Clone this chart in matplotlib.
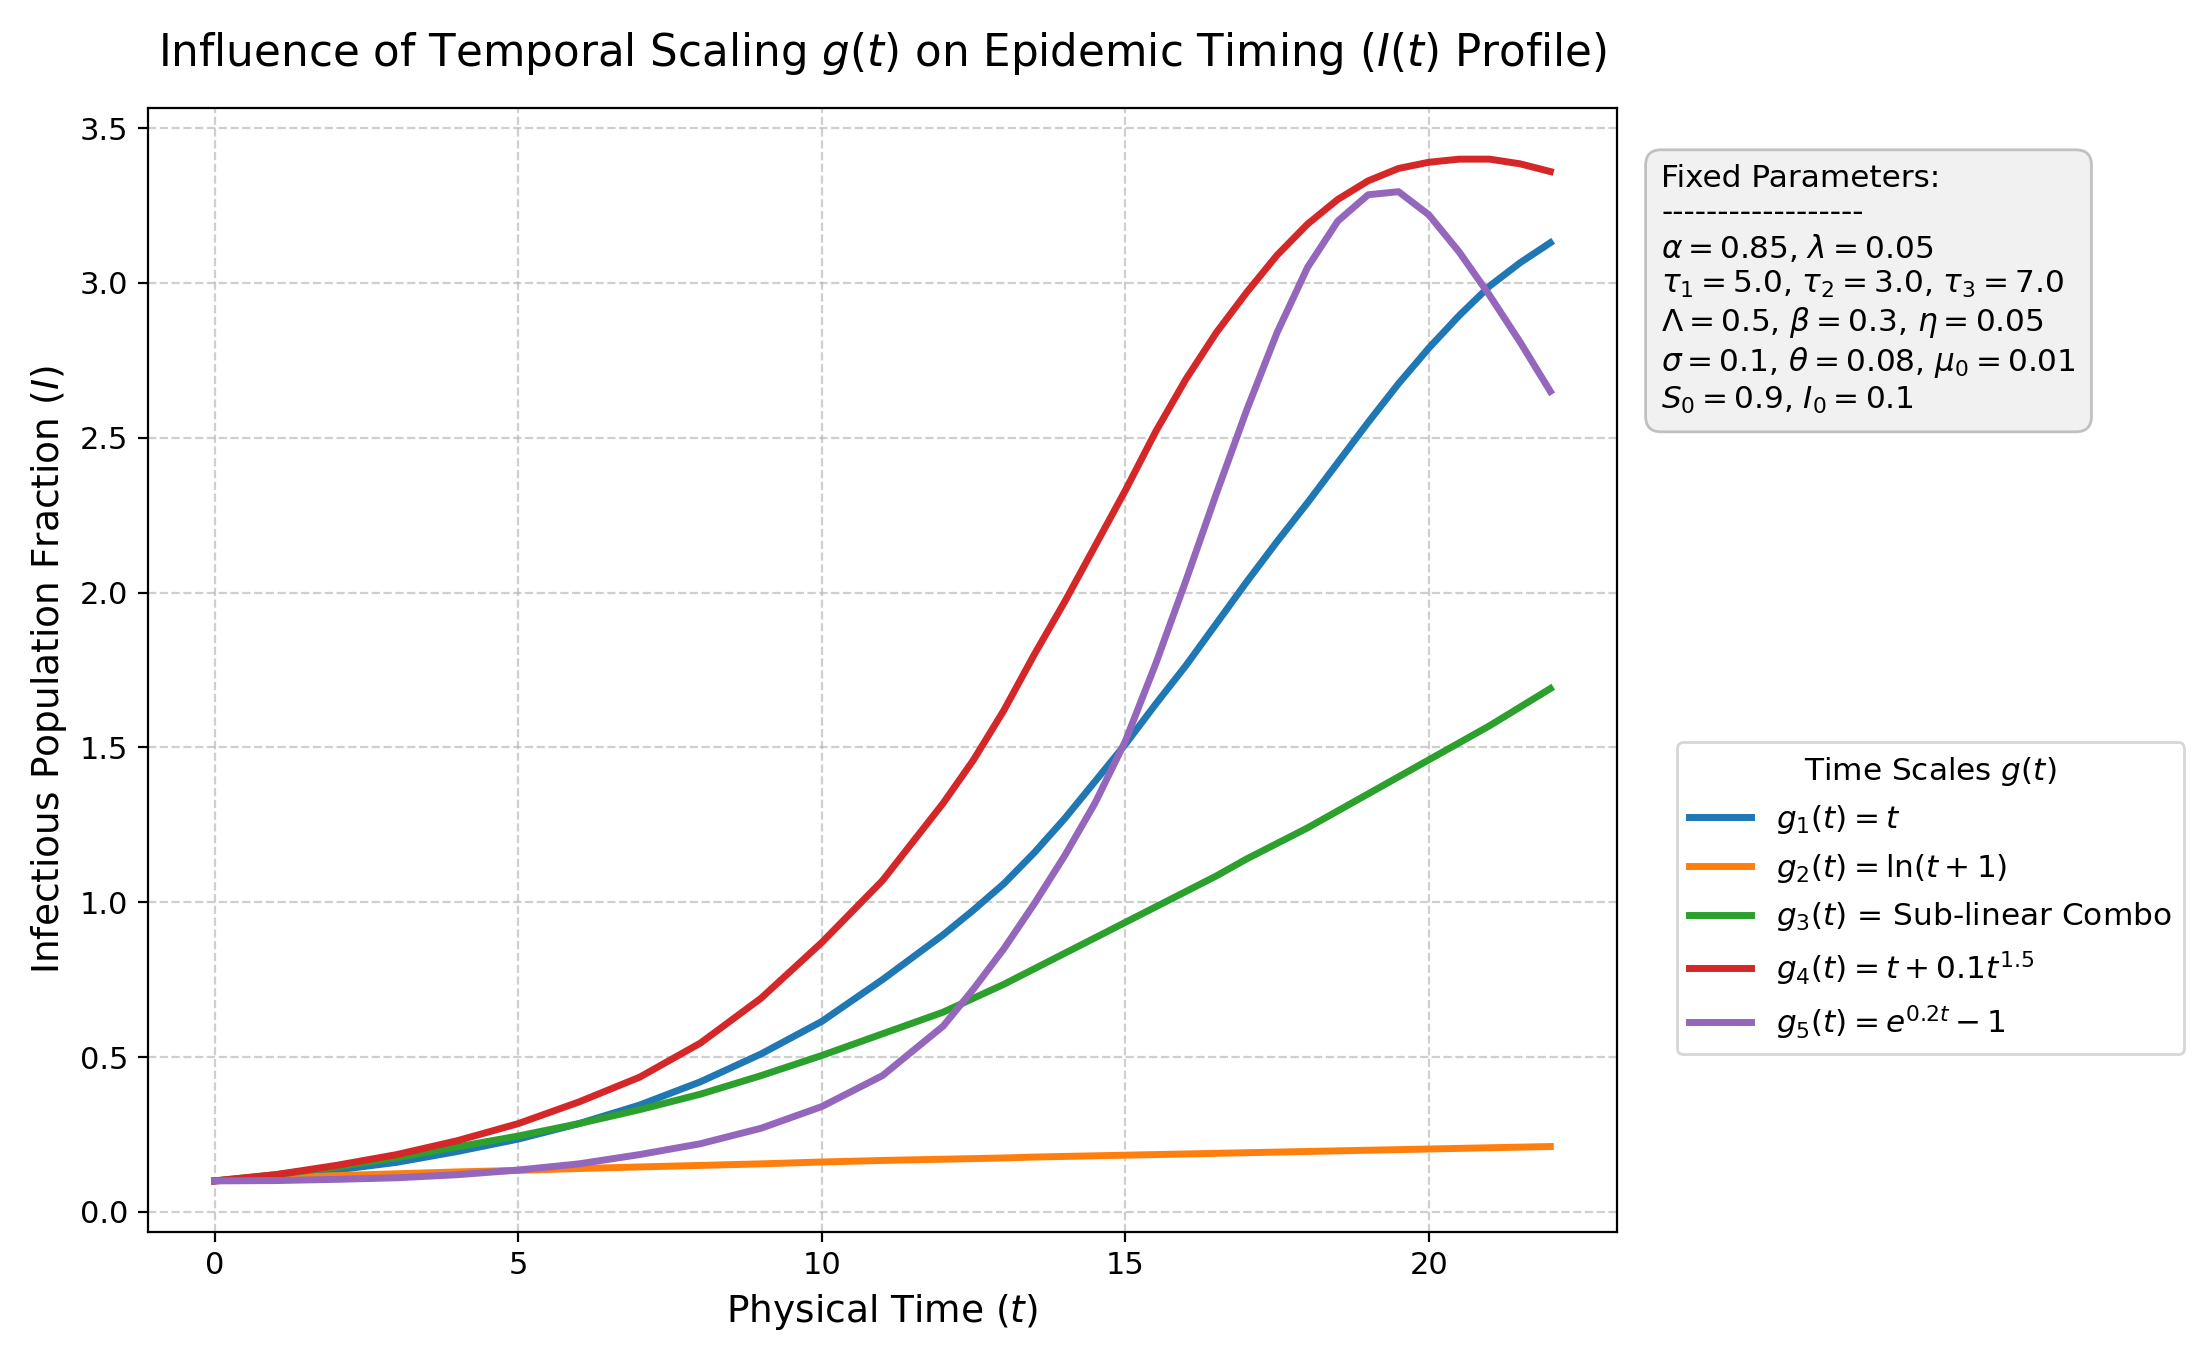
import numpy as np
import matplotlib
matplotlib.use('Agg')
import matplotlib.pyplot as plt

# time points
t = [0, 1, 2, 3, 4, 5, 6, 7, 8, 9, 10, 11, 12, 12.5, 13, 13.5, 14, 14.5, 15,
     15.5, 16, 16.5, 17, 17.5, 18, 18.5, 19, 19.5, 20, 20.5, 21, 21.5, 22]

# I(t) for each time scale g(t)
i_g1 = [0.10, 0.115, 0.135, 0.16, 0.195, 0.235, 0.285, 0.345, 0.42, 0.51, 0.615,
        0.75, 0.895, 0.975, 1.06, 1.16, 1.27, 1.39, 1.51, 1.64, 1.765, 1.90,
        2.035, 2.165, 2.29, 2.42, 2.55, 2.675, 2.79, 2.895, 2.99, 3.065, 3.13]
i_g2 = [0.10, 0.11, 0.117, 0.123, 0.129, 0.134, 0.14, 0.145, 0.15, 0.155, 0.161,
        0.166, 0.17, 0.172, 0.174, 0.177, 0.179, 0.181, 0.183, 0.185, 0.187,
        0.189, 0.191, 0.193, 0.195, 0.197, 0.199, 0.201, 0.203, 0.205, 0.207,
        0.209, 0.211]
i_g3 = [0.10, 0.12, 0.145, 0.175, 0.21, 0.245, 0.285, 0.33, 0.38, 0.44, 0.505,
        0.575, 0.645, 0.69, 0.735, 0.785, 0.835, 0.885, 0.935, 0.985, 1.035,
        1.085, 1.14, 1.19, 1.24, 1.295, 1.35, 1.405, 1.46, 1.515, 1.57, 1.63, 1.69]
i_g4 = [0.10, 0.12, 0.15, 0.185, 0.23, 0.285, 0.355, 0.435, 0.545, 0.69, 0.87,
        1.07, 1.32, 1.46, 1.62, 1.80, 1.97, 2.15, 2.33, 2.52, 2.69, 2.84, 2.97,
        3.09, 3.19, 3.27, 3.33, 3.37, 3.39, 3.40, 3.40, 3.385, 3.36]
i_g5 = [0.10, 0.101, 0.105, 0.11, 0.12, 0.135, 0.155, 0.185, 0.22, 0.27, 0.34,
        0.44, 0.60, 0.72, 0.85, 0.995, 1.15, 1.32, 1.52, 1.77, 2.04, 2.32, 2.59,
        2.84, 3.05, 3.20, 3.285, 3.295, 3.22, 3.10, 2.96, 2.81, 2.65]

labels = [r'$g_1(t) = t$',
          r'$g_2(t) = \ln(t+1)$',
          r'$g_3(t)$ = Sub-linear Combo',
          r'$g_4(t) = t + 0.1t^{1.5}$',
          r'$g_5(t) = e^{0.2t} - 1$']

params_text = ("Fixed Parameters:\n"
               "------------------\n"
               r"$\alpha = 0.85$, $\lambda = 0.05$" "\n"
               r"$\tau_1 = 5.0$, $\tau_2 = 3.0$, $\tau_3 = 7.0$" "\n"
               r"$\Lambda = 0.5$, $\beta = 0.3$, $\eta = 0.05$" "\n"
               r"$\sigma = 0.1$, $\theta = 0.08$, $\mu_0 = 0.01$" "\n"
               r"$S_0 = 0.9$, $I_0 = 0.1$")

fig = plt.figure(figsize=(11.005, 6.805), dpi=200)
ax = fig.add_subplot(111)
fig.subplots_adjust(left=0.0672, right=0.7347, bottom=0.0948, top=0.9206)

for y, lab in zip([i_g1, i_g2, i_g3, i_g4, i_g5], labels):
    ax.plot(t, y, lw=2.5, label=lab)

ax.grid(True, linestyle='--', alpha=0.6)
ax.set_title(r'Influence of Temporal Scaling $g(t)$ on Epidemic Timing ($I(t)$ Profile)',
             fontsize=15.7, pad=15)
ax.set_xlabel(r'Physical Time ($t$)', fontsize=13.5)
ax.set_ylabel(r'Infectious Population Fraction ($I$)', fontsize=13.5)
ax.tick_params(labelsize=11)

ax.legend(title=r'Time Scales $g(t)$', loc='center left', bbox_to_anchor=(1.03, 0.297),
          fontsize=11.2, title_fontsize=11.2)

ax.text(1.03, 0.95, params_text, transform=ax.transAxes, fontsize=11.2, va='top',
        bbox=dict(boxstyle='round,pad=0.5', facecolor='#f0f0f0', edgecolor='#bbbbbb', alpha=0.9))

#plt.show()
plt.savefig('out.png', format='png', dpi=200)
plt.close()
